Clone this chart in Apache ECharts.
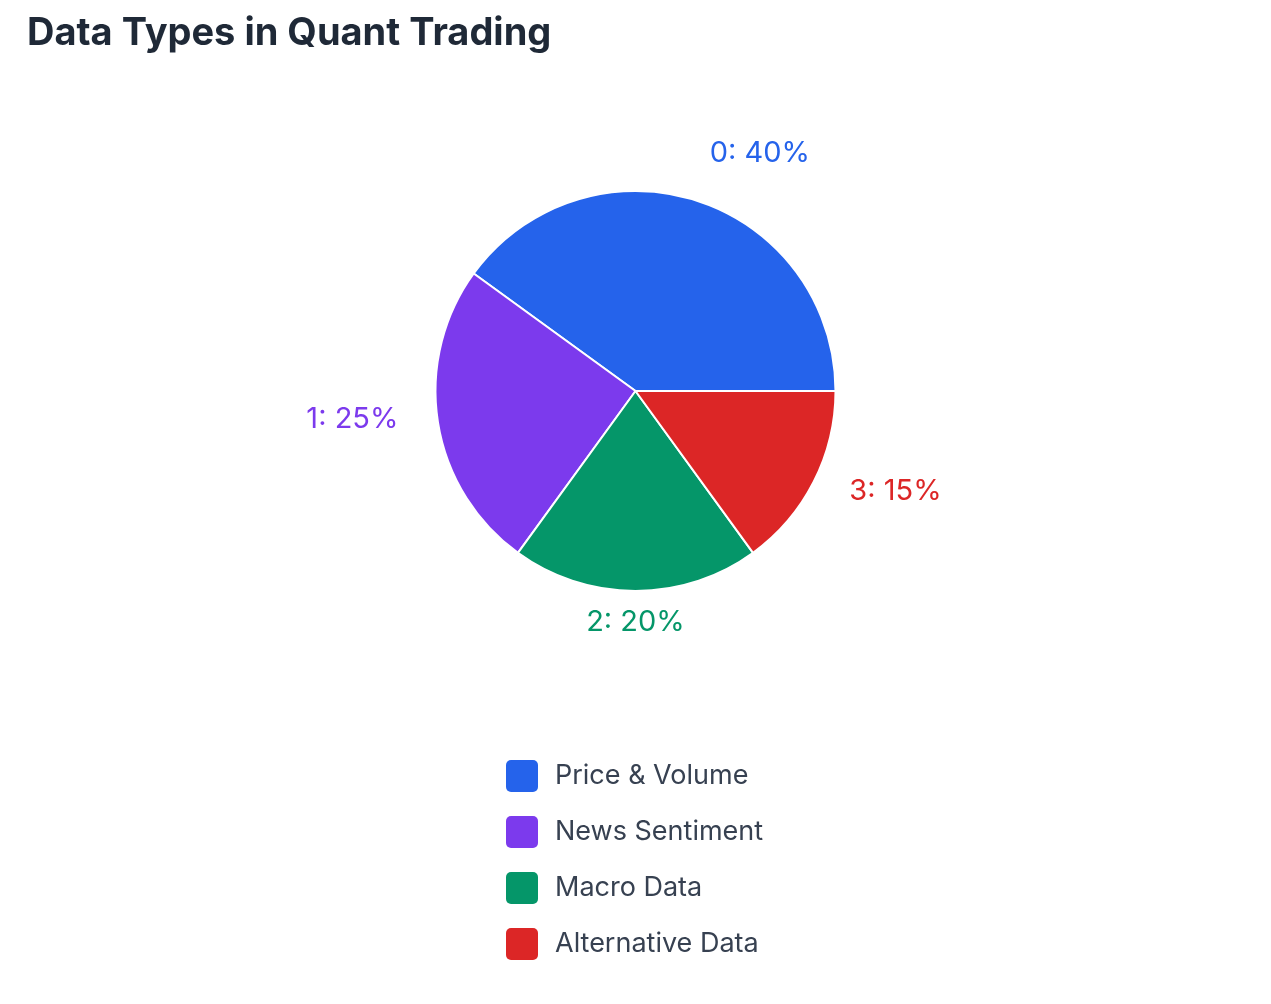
<!DOCTYPE html>
<html>
<head>
<meta charset="utf-8">
<script src="https://cdn.jsdelivr.net/npm/echarts@6/dist/echarts.min.js"></script>
<style>
html, body { margin: 0; padding: 0; background: #fff; }
#chart { width: 1271px; height: 1004px; }
</style>
</head>
<body>
<div id="chart"></div>
<script>
var categories = ['Price & Volume', 'News Sentiment', 'Macro Data', 'Alternative Data'];
var shares = [40, 25, 20, 15];
var colors = ['#2563eb', '#7c3aed', '#059669', '#dc2626'];

var myChart = echarts.init(document.getElementById('chart'));

// mid angle of every slice, degrees counterclockwise from 3 o'clock
var total = shares.reduce(function (a, b) { return a + b; }, 0);
var midAngles = [];
var acc = 0;
for (var i = 0; i < shares.length; i++) {
    midAngles.push((acc + shares[i] / 2) / total * 360);
    acc += shares[i];
}

var cy = 391, radius = 200, labelRadius = 240;

var pieData = categories.map(function (name, i) {
    return {
        name: name,
        value: shares[i],
        itemStyle: { color: colors[i] },
        label: { color: colors[i] }
    };
});

option = {
    backgroundColor: '#ffffff',
    title: {
        text: 'Data Types in Quant Trading',
        left: 27,
        top: 15,
        padding: 0,
        textStyle: {
            fontFamily: 'Inter',
            fontSize: 38,
            fontWeight: 'bold',
            color: '#1f2937'
        }
    },
    legend: {
        orient: 'vertical',
        left: 506,
        top: 760,
        padding: 0,
        itemWidth: 32,
        itemHeight: 32,
        itemGap: 24,
        icon: 'path://M5,0H27A5,5,0,0,1,32,5V27A5,5,0,0,1,27,32H5A5,5,0,0,1,0,27V5A5,5,0,0,1,5,0Z',
        itemStyle: { borderWidth: 0 },
        textStyle: {
            fontFamily: 'Inter',
            fontSize: 27,
            color: '#374151',
            padding: [0, 0, 0, 12]
        },
        data: categories
    },
    series: [{
        name: 'Data Types',
        type: 'pie',
        center: ['50%', cy],
        radius: radius,
        startAngle: 0,
        clockwise: false,
        itemStyle: {
            borderColor: '#ffffff',
            borderWidth: 2
        },
        label: {
            show: true,
            position: 'outside',
            fontFamily: 'Inter',
            fontSize: 29,
            formatter: function (p) {
                return p.dataIndex + ': ' + shares[p.dataIndex] + '%';
            }
        },
        labelLine: { show: false },
        labelLayout: function (params) {
            var a = midAngles[params.dataIndex] * Math.PI / 180;
            var c = Math.cos(a), s = Math.sin(a);
            var cx = myChart.getWidth() / 2;
            return {
                x: cx + labelRadius * c,
                y: cy - labelRadius * s - 9,
                align: Math.abs(c) < 0.1 ? 'center' : (c > 0 ? 'left' : 'right'),
                verticalAlign: 'middle'
            };
        },
        emphasis: { scale: false },
        data: pieData
    }]
};
myChart.setOption(option);
</script>
</body>
</html>
